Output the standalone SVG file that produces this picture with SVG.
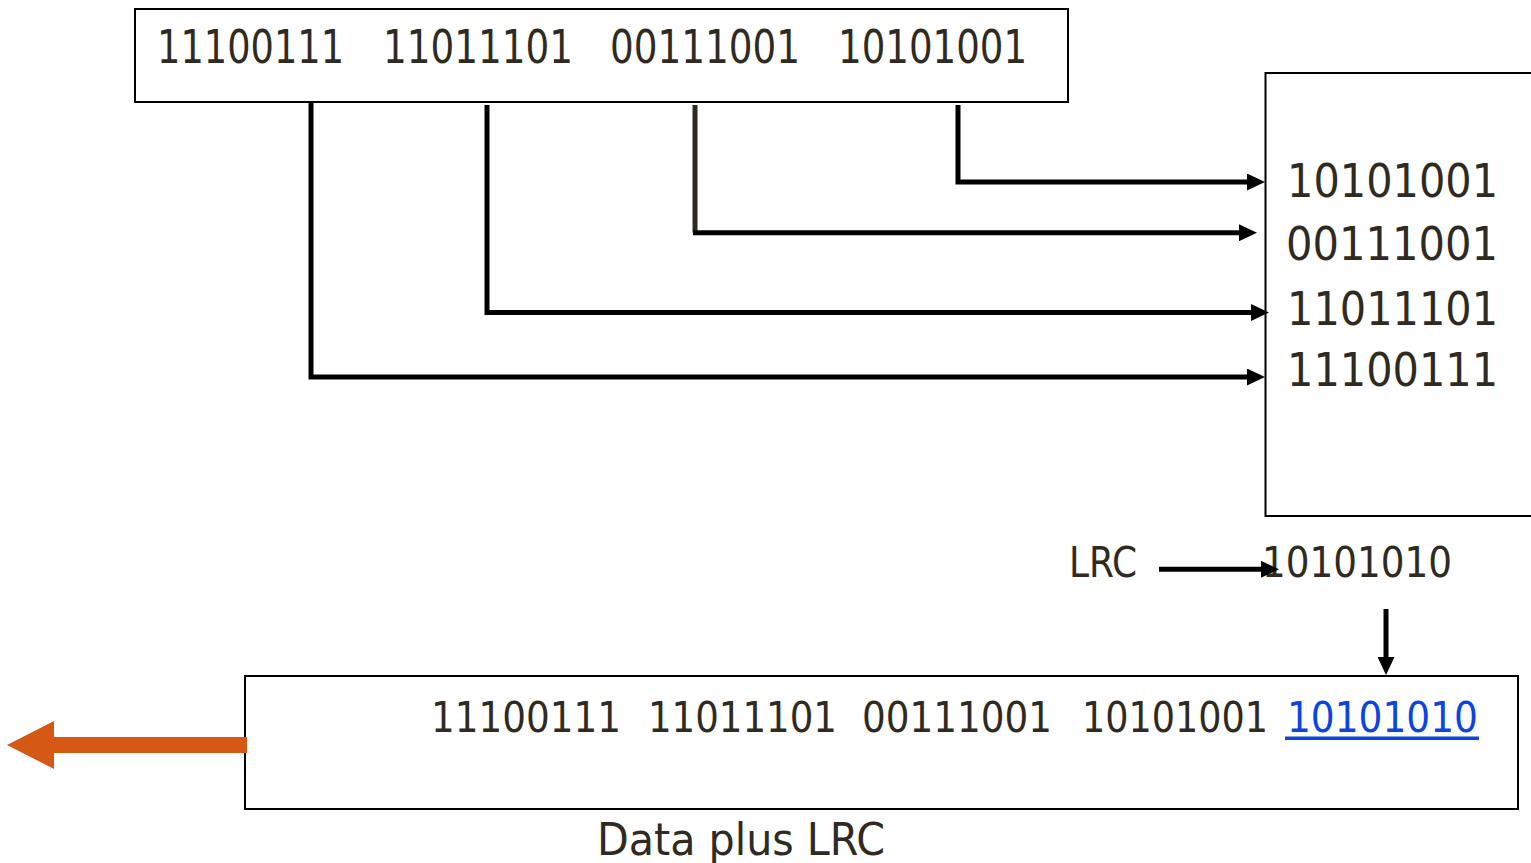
<svg xmlns="http://www.w3.org/2000/svg" width="1531" height="863" viewBox="0 0 1531 863">
<style>
.box{fill:#fff;stroke:#000;stroke-width:2}
.t{font-family:"DejaVu Sans Condensed","DejaVu Sans",sans-serif;fill:#2f2a22}
.ln{fill:none;stroke:#000;stroke-width:5}
</style>
<defs>
<marker id="ah" markerUnits="userSpaceOnUse" markerWidth="18" markerHeight="17" refX="6" refY="8.5" orient="auto">
<path d="M0,0 L18,8.5 L0,17 Z" fill="#000"/>
</marker>
</defs>
<rect width="1531" height="863" fill="#fff"/>
<g id="top-box">
<rect class="box" x="135" y="9" width="933" height="93"/>
<text class="t" x="157" y="63" font-size="46" textLength="187" lengthAdjust="spacingAndGlyphs">11100111</text>
<text class="t" x="383" y="63" font-size="46" textLength="190" lengthAdjust="spacingAndGlyphs">11011101</text>
<text class="t" x="610" y="63" font-size="46" textLength="190" lengthAdjust="spacingAndGlyphs">00111001</text>
<text class="t" x="838" y="63" font-size="46" textLength="189" lengthAdjust="spacingAndGlyphs">10101001</text>
</g>
<g id="right-box">
<path d="M1531,73 H1265.5 V516 H1531" fill="#fff" stroke="#000" stroke-width="2"/>
<text class="t" x="1287" y="197" font-size="47" textLength="211" lengthAdjust="spacingAndGlyphs">10101001</text>
<text class="t" x="1286" y="260" font-size="47" textLength="212" lengthAdjust="spacingAndGlyphs">00111001</text>
<text class="t" x="1287" y="325" font-size="47" textLength="211" lengthAdjust="spacingAndGlyphs">11011101</text>
<text class="t" x="1287" y="386" font-size="47" textLength="211" lengthAdjust="spacingAndGlyphs">11100111</text>
</g>
<g id="lrc">
<text class="t" x="1069" y="577" font-size="42" textLength="68" lengthAdjust="spacingAndGlyphs">LRC</text>
<text class="t" x="1262" y="577" font-size="42" textLength="190" lengthAdjust="spacingAndGlyphs">10101010</text>
</g>
<g id="bottom-box">
<rect class="box" x="245" y="676" width="1273" height="133"/>
<text class="t" x="431" y="732" font-size="42.5" textLength="190" lengthAdjust="spacingAndGlyphs">11100111</text>
<text class="t" x="648" y="732" font-size="42.5" textLength="189" lengthAdjust="spacingAndGlyphs">11011101</text>
<text class="t" x="862" y="732" font-size="42.5" textLength="190" lengthAdjust="spacingAndGlyphs">00111001</text>
<text class="t" x="1082" y="732" font-size="42.5" textLength="186" lengthAdjust="spacingAndGlyphs">10101001</text>
<text class="t" x="1287" y="732" font-size="42.5" textLength="191" lengthAdjust="spacingAndGlyphs" style="fill:#0b44e0">10101010</text>
<rect x="1285" y="736.5" width="194" height="3.5" fill="#0b44e0"/>
</g>
<g id="caption">
<text class="t" x="597" y="855" font-size="45" textLength="288" lengthAdjust="spacingAndGlyphs">Data plus LRC</text>
</g>
<g id="connectors">
<path class="ln" d="M311,102 V377 H1253" marker-end="url(#ah)"/>
<path class="ln" d="M487,105 V312.5 H1257" marker-end="url(#ah)"/>
<path class="ln" d="M695,105 V232.7" style="stroke:#2e2a20"/>
<path class="ln" d="M693,232.7 H1245" marker-end="url(#ah)"/>
<path class="ln" d="M958,105 V182 H1253" marker-end="url(#ah)"/>
<path class="ln" d="M1159,569.3 H1267" marker-end="url(#ah)"/>
<path class="ln" d="M1386,609 V663" marker-end="url(#ah)"/>
<polygon points="7,745 54,721 54,737 247,737 247,753 54,753 54,769" fill="#d55815"/>
</g>
</svg>
